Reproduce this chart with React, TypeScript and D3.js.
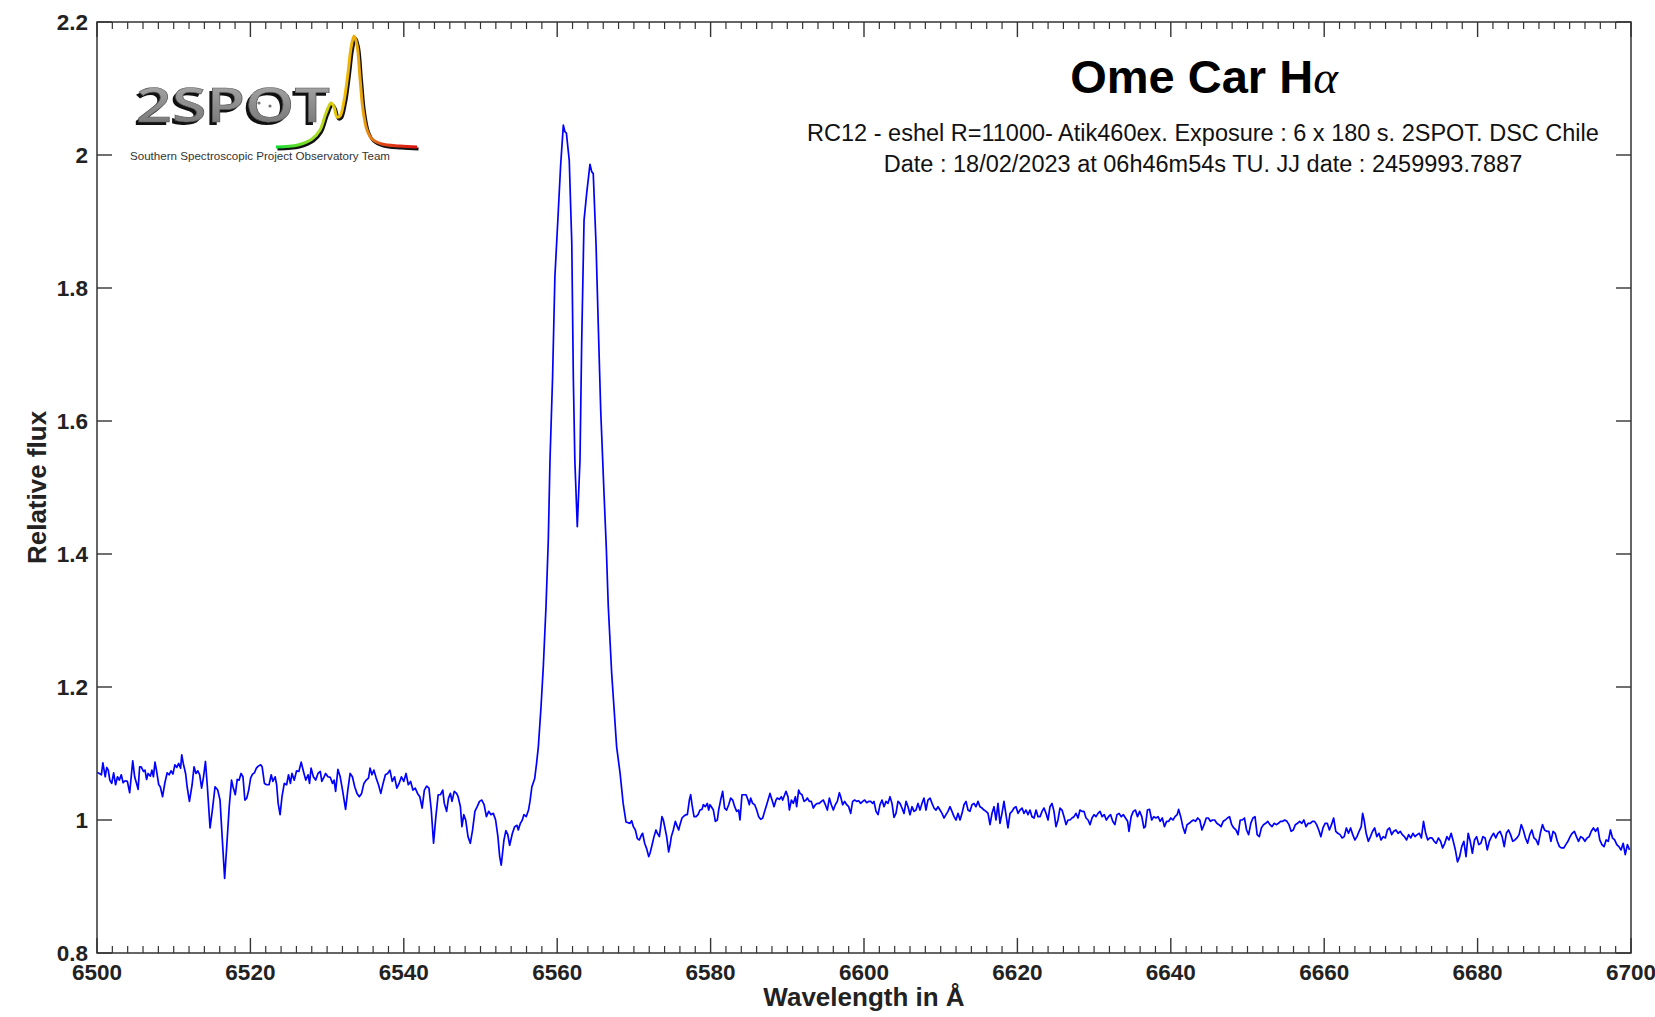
import React from "react";
import * as d3 from "d3";

// ---- Data: Omega Car H-alpha spectrum (wavelength in Å, relative flux) ----
const blueWing: [number, number][] = [
[6500.0,1.072],[6500.57,1.068],[6500.77,1.086],[6501.07,1.065],[6501.27,1.079],[6501.47,1.075],[6501.67,1.060],[6501.92,1.055],[6502.17,1.071],[6502.42,1.053],[6502.67,1.065],[6502.91,1.060],[6503.16,1.068],[6503.41,1.056],[6503.66,1.059],[6503.96,1.058],[6504.26,1.041],[6504.46,1.065],[6504.66,1.089],[6504.91,1.065],[6505.16,1.055],[6505.36,1.046],[6505.56,1.080],[6505.76,1.080],[6506.06,1.073],[6506.26,1.075],[6506.46,1.061],[6506.66,1.070],[6506.96,1.066],[6507.16,1.075],[6507.36,1.065],[6507.56,1.087],[6507.75,1.075],[6508.05,1.053],[6508.25,1.050],[6508.55,1.035],[6508.85,1.056],[6509.15,1.071],[6509.40,1.068],[6509.65,1.074],[6509.90,1.069],[6510.15,1.083],[6510.40,1.079],[6510.65,1.085],[6510.90,1.078],[6511.05,1.098],[6511.25,1.085],[6511.55,1.070],[6511.75,1.050],[6512.05,1.028],[6512.40,1.053],[6512.65,1.080],[6512.90,1.070],[6513.14,1.074],[6513.39,1.068],[6513.64,1.048],[6513.89,1.065],[6514.14,1.088],[6514.39,1.050],[6514.74,0.988],[6515.04,1.015],[6515.39,1.050],[6515.74,1.045],[6516.04,1.030],[6516.24,0.990],[6516.64,0.912],[6516.94,0.965],[6517.24,1.020],[6517.54,1.060],[6517.73,1.050],[6518.03,1.038],[6518.28,1.061],[6518.53,1.060],[6518.78,1.070],[6519.03,1.065],[6519.28,1.030],[6519.53,1.033],[6519.78,1.045],[6520.03,1.063],[6520.28,1.069],[6520.53,1.071],[6520.78,1.078],[6521.03,1.081],[6521.33,1.083],[6521.53,1.080],[6521.83,1.055],[6522.13,1.053],[6522.43,1.053],[6522.72,1.068],[6522.92,1.058],[6523.22,1.065],[6523.42,1.053],[6523.62,1.025],[6523.87,1.008],[6524.12,1.035],[6524.42,1.055],[6524.72,1.053],[6524.97,1.068],[6525.22,1.055],[6525.42,1.070],[6525.72,1.060],[6526.02,1.074],[6526.32,1.073],[6526.62,1.087],[6526.92,1.073],[6527.22,1.060],[6527.52,1.068],[6527.71,1.055],[6527.91,1.078],[6528.21,1.065],[6528.51,1.060],[6528.81,1.070],[6529.11,1.073],[6529.31,1.058],[6529.61,1.065],[6529.81,1.070],[6530.11,1.065],[6530.41,1.064],[6530.71,1.055],[6530.91,1.060],[6531.11,1.043],[6531.41,1.076],[6531.71,1.065],[6532.01,1.045],[6532.41,1.016],[6532.70,1.045],[6533.00,1.070],[6533.30,1.065],[6533.60,1.050],[6533.90,1.040],[6534.20,1.035],[6534.50,1.040],[6534.80,1.055],[6535.10,1.060],[6535.40,1.063],[6535.60,1.078],[6535.85,1.068],[6536.10,1.075],[6536.40,1.063],[6536.70,1.053],[6537.00,1.040],[6537.30,1.055],[6537.60,1.068],[6537.89,1.070],[6538.19,1.075],[6538.49,1.058],[6538.79,1.065],[6539.09,1.048],[6539.39,1.055],[6539.69,1.065],[6539.99,1.058],[6540.29,1.070],[6540.59,1.053],[6540.89,1.058],[6541.19,1.045],[6541.49,1.048],[6541.79,1.040],[6542.09,1.035],[6542.39,1.018],[6542.68,1.045],[6542.98,1.051],[6543.28,1.048],[6543.58,1.015],[6543.88,0.965],[6544.18,1.005],[6544.48,1.038],[6544.78,1.038],[6545.08,1.045],[6545.28,1.025],[6545.58,1.013],[6545.83,1.033],[6546.08,1.040],[6546.28,1.028],[6546.58,1.043],[6546.88,1.040],[6547.08,1.035],[6547.38,1.020],[6547.58,0.990],[6547.82,1.008],[6548.07,1.000],[6548.37,0.975],[6548.67,0.965],[6548.97,0.985],[6549.27,1.013],[6549.57,1.020],[6549.87,1.028],[6550.17,1.030],[6550.47,1.023],[6550.77,1.005],[6551.07,1.013],[6551.37,1.008],[6551.67,1.010],[6551.97,1.000],[6552.27,0.975],[6552.50,0.945],[6552.70,0.932],[6553.06,0.970],[6553.31,0.984],[6553.56,0.978],[6553.80,0.962],[6554.16,0.980],[6554.46,0.990],[6554.76,0.992],[6554.93,0.985],[6555.20,0.995],[6555.45,1.000],[6555.66,1.008],[6555.96,1.005],[6556.26,1.015],[6556.45,1.028],[6556.70,1.050],[6557.06,1.062]
];

const emissionCore: [number, number][] = [
[6557.31,1.085],[6557.54,1.110],[6557.89,1.170],[6558.19,1.231],[6558.54,1.321],[6558.84,1.421],[6559.06,1.541],[6559.40,1.667],[6559.70,1.817],[6560.15,1.917],[6560.45,1.985],[6560.80,2.045],[6561.00,2.035],[6561.20,2.033],[6561.57,1.992],[6561.90,1.868],[6562.10,1.667],[6562.30,1.541],[6562.62,1.441],[6562.97,1.541],[6563.19,1.717],[6563.50,1.902],[6563.84,1.942],[6564.27,1.986],[6564.50,1.975],[6564.70,1.972],[6565.06,1.867],[6565.36,1.742],[6565.67,1.617],[6566.10,1.492],[6566.40,1.410],[6566.66,1.321],[6567.10,1.221],[6567.40,1.170],[6567.75,1.110],[6568.20,1.070],[6568.60,1.025],[6568.97,0.997]
];

const redWingNear: [number, number][] = [
[6569.49,0.995],[6569.71,0.999],[6569.93,0.990],[6570.19,0.985],[6570.45,0.972],[6570.71,0.970],[6570.97,0.977],[6571.14,0.980],[6571.40,0.965],[6571.66,0.957],[6571.93,0.945],[6572.10,0.950],[6572.36,0.962],[6572.62,0.975],[6572.88,0.985],[6573.06,0.980],[6573.32,0.975],[6573.49,0.990],[6573.66,1.005],[6573.84,1.000],[6574.10,0.985],[6574.27,0.975],[6574.53,0.952],[6574.71,0.962],[6574.88,0.975],[6575.14,0.985],[6575.40,0.998],[6575.66,0.990],[6575.84,0.985],[6576.01,0.993],[6576.27,1.003],[6576.53,1.006],[6576.79,1.008],[6576.97,1.008],[6577.23,1.030],[6577.40,1.038],[6577.58,1.023],[6577.84,1.005],[6578.10,1.005],[6578.36,1.008],[6578.62,1.015],[6578.88,1.016],[6579.05,1.023],[6579.31,1.020],[6579.57,1.025],[6579.75,1.015],[6579.92,1.023],[6580.10,1.020],[6580.36,1.015],[6580.62,0.998],[6580.88,1.000],[6581.05,1.015],[6581.31,1.030],[6581.57,1.043],[6581.83,1.018],[6582.09,1.015],[6582.36,1.023],[6582.62,1.033],[6582.88,1.030],[6583.14,1.020],[6583.40,1.013],[6583.66,1.015],[6583.83,1.000],[6584.09,1.038],[6584.36,1.038],[6584.62,1.038],[6584.88,1.030],[6585.05,1.023],[6585.22,1.033],[6585.48,1.025],[6585.75,1.023],[6586.01,1.015],[6586.27,1.005],[6586.53,1.001],[6586.79,1.003],[6587.05,1.013],[6587.31,1.023],[6587.57,1.033],[6587.74,1.040],[6588.01,1.030],[6588.27,1.020],[6588.53,1.030],[6588.70,1.033],[6588.96,1.031],[6589.22,1.035],[6589.40,1.030],[6589.66,1.038],[6589.83,1.043],[6590.09,1.035],[6590.27,1.015],[6590.53,1.030],[6590.79,1.025],[6591.05,1.035],[6591.22,1.020],[6591.48,1.045],[6591.66,1.040],[6591.92,1.038],[6592.18,1.028],[6592.44,1.030],[6592.61,1.033],[6592.87,1.028],[6593.13,1.028],[6593.39,1.018],[6593.66,1.023],[6593.92,1.025],[6594.18,1.025],[6594.44,1.028],[6594.70,1.030],[6594.96,1.023],[6595.22,1.015],[6595.48,1.033],[6595.74,1.023],[6596.00,1.015],[6596.26,1.023],[6596.52,1.028],[6596.79,1.041],[6596.96,1.035],[6597.22,1.023],[6597.48,1.028],[6597.74,1.023],[6598.00,1.020],[6598.26,1.010],[6598.52,1.028],[6598.78,1.030],[6599.04,1.028],[6599.30,1.029],[6599.57,1.025],[6599.83,1.028],[6600.09,1.030],[6600.35,1.026],[6600.61,1.028],[6600.87,1.028],[6601.13,1.025],[6601.30,1.028],[6601.57,1.013],[6601.83,1.008],[6602.09,1.023],[6602.35,1.030],[6602.61,1.020],[6602.87,1.028],[6603.13,1.025],[6603.39,1.035],[6603.65,1.025],[6603.91,1.004],[6604.17,1.010],[6604.43,1.028],[6604.69,1.025],[6604.95,1.018],[6605.22,1.010],[6605.48,1.028],[6605.74,1.020],[6606.00,1.008],[6606.26,1.020],[6606.52,1.013],[6606.78,1.015],[6607.04,1.025],[6607.30,1.015],[6607.56,1.025],[6607.82,1.033],[6608.08,1.015],[6608.34,1.030],[6608.61,1.033],[6608.87,1.025],[6609.13,1.018],[6609.39,1.015],[6609.65,1.020],[6609.91,1.015],[6610.17,1.010],[6610.43,1.003],[6610.69,1.008],[6610.95,1.013],[6611.21,1.020],[6611.47,1.013],[6611.74,1.005],[6612.00,1.000],[6612.26,1.010],[6612.52,1.000],[6612.78,1.010],[6613.04,1.023],[6613.30,1.028],[6613.56,1.015],[6613.82,1.013],[6614.08,1.023],[6614.34,1.025],[6614.60,1.020],[6614.86,1.028],[6615.12,1.020],[6615.39,1.018],[6615.65,1.015],[6615.91,1.013],[6616.17,1.010],[6616.43,0.993],[6616.69,1.010],[6616.95,1.020],[6617.21,1.000],[6617.47,1.025],[6617.73,0.995],[6617.99,1.010],[6618.25,1.028],[6618.51,1.008],[6618.77,0.988],[6619.04,1.010],[6619.30,1.013],[6619.56,1.018],[6619.82,1.020],[6620.08,1.010],[6620.34,1.015],[6620.60,1.018],[6620.86,1.010],[6621.12,1.015],[6621.38,1.008],[6621.64,1.015],[6621.90,1.005],[6622.17,1.003],[6622.43,1.015],[6622.69,1.005],[6622.95,1.005],[6623.21,1.013],[6623.47,1.018],[6623.73,1.010],[6623.99,1.000],[6624.25,1.020],[6624.51,1.025],[6624.77,1.013],[6625.03,0.990],[6625.29,1.000],[6625.55,1.018],[6625.82,1.015],[6626.08,1.005],[6626.34,0.993],[6626.60,1.000],[6626.86,1.000],[6627.12,1.003],[6627.38,1.005],[6627.64,1.010],[6627.90,1.003],[6628.16,1.015],[6628.42,1.013],[6628.68,1.013],[6628.95,1.003],[6629.21,1.000],[6629.47,0.993],[6629.73,1.003],[6629.99,1.008],[6630.25,1.005],[6630.51,1.010]
];

const redWingFar: [number, number][] = [
[6630.77,1.013],[6631.05,1.005],[6631.32,1.008],[6631.60,1.000],[6631.88,1.005],[6632.15,1.008],[6632.43,0.998],[6632.71,0.993],[6632.98,1.008],[6633.26,1.010],[6633.54,1.005],[6633.82,1.008],[6634.09,1.003],[6634.37,0.998],[6634.55,0.983],[6634.83,1.005],[6635.11,1.013],[6635.39,1.015],[6635.66,1.005],[6635.94,1.013],[6636.22,1.005],[6636.49,0.988],[6636.68,0.990],[6636.95,1.015],[6637.23,1.016],[6637.51,1.000],[6637.78,1.005],[6638.06,1.003],[6638.34,1.005],[6638.62,0.998],[6638.89,1.003],[6639.17,0.990],[6639.45,0.998],[6639.72,0.998],[6640.00,1.003],[6640.28,1.000],[6640.55,1.005],[6640.83,1.008],[6641.02,1.016],[6641.29,1.005],[6641.57,0.990],[6641.85,0.980],[6642.12,0.993],[6642.40,0.995],[6642.68,0.998],[6642.95,1.000],[6643.23,0.998],[6643.51,1.003],[6643.78,1.000],[6644.06,0.985],[6644.34,0.993],[6644.62,1.003],[6644.89,1.003],[6645.17,0.998],[6645.45,1.000],[6645.72,1.000],[6646.00,0.995],[6646.28,0.993],[6646.55,0.990],[6646.83,0.998],[6647.11,1.000],[6647.38,1.003],[6647.66,1.005],[6647.94,0.993],[6648.21,0.988],[6648.49,0.985],[6648.77,0.978],[6649.05,1.000],[6649.32,1.000],[6649.60,1.003],[6649.88,0.985],[6650.15,0.978],[6650.43,0.995],[6650.71,1.003],[6650.98,1.005],[6651.26,0.978],[6651.54,0.975],[6651.81,0.988],[6652.09,0.993],[6652.37,0.995],[6652.65,0.998],[6652.92,0.993],[6653.20,0.990],[6653.48,0.995],[6653.75,0.993],[6654.03,0.995],[6654.31,0.998],[6654.58,0.998],[6654.86,1.000],[6655.14,0.998],[6655.41,0.993],[6655.69,0.983],[6655.97,0.985],[6656.24,0.993],[6656.52,0.995],[6656.80,0.998],[6657.08,0.995],[6657.35,1.000],[6657.63,0.990],[6657.91,0.995],[6658.18,0.995],[6658.46,0.998],[6658.74,0.998],[6659.01,0.993],[6659.29,0.985],[6659.57,0.975],[6659.84,0.988],[6660.12,0.995],[6660.40,0.995],[6660.68,0.985],[6660.95,0.993],[6661.23,1.003],[6661.51,0.983],[6661.78,0.980],[6662.06,0.978],[6662.34,0.973],[6662.61,0.975],[6662.89,0.988],[6663.17,0.980],[6663.44,0.988],[6663.72,0.978],[6664.00,0.970],[6664.27,0.975],[6664.55,0.983],[6664.83,0.990],[6665.01,1.010],[6665.20,1.000],[6665.47,0.980],[6665.75,0.968],[6666.03,0.975],[6666.31,0.983],[6666.58,0.988],[6666.86,0.975],[6667.14,0.980],[6667.41,0.970],[6667.69,0.975],[6667.97,0.973],[6668.24,0.985],[6668.52,0.988],[6668.80,0.978],[6669.07,0.983],[6669.35,0.985],[6669.63,0.980],[6669.91,0.983],[6670.18,0.978],[6670.46,0.975],[6670.74,0.970],[6671.01,0.978],[6671.29,0.973],[6671.57,0.980],[6671.84,0.975],[6672.12,0.978],[6672.40,0.980],[6672.67,0.973],[6672.95,0.998],[6673.23,0.980],[6673.50,0.970],[6673.78,0.973],[6674.06,0.973],[6674.34,0.968],[6674.61,0.965],[6674.89,0.973],[6675.17,0.968],[6675.44,0.958],[6675.72,0.965],[6676.00,0.975],[6676.27,0.970],[6676.55,0.980],[6676.83,0.968],[6677.10,0.955],[6677.38,0.937],[6677.66,0.945],[6677.93,0.960],[6678.21,0.968],[6678.49,0.945],[6678.77,0.980],[6679.04,0.968],[6679.32,0.950],[6679.60,0.970],[6679.87,0.975],[6680.15,0.963],[6680.43,0.965],[6680.70,0.975],[6680.98,0.973],[6681.26,0.955],[6681.53,0.968],[6681.81,0.975],[6682.09,0.980],[6682.37,0.973],[6682.64,0.980],[6682.92,0.983],[6683.20,0.975],[6683.47,0.960],[6683.75,0.980],[6684.03,0.985],[6684.30,0.978],[6684.58,0.968],[6684.86,0.970],[6685.13,0.973],[6685.41,0.978],[6685.69,0.993],[6685.96,0.985],[6686.24,0.973],[6686.52,0.965],[6686.80,0.978],[6687.07,0.985],[6687.35,0.973],[6687.63,0.970],[6687.90,0.963],[6688.18,0.980],[6688.46,0.993],[6688.73,0.985],[6689.01,0.983],[6689.29,0.983],[6689.56,0.968],[6689.84,0.983],[6690.12,0.980],[6690.39,0.968],[6690.67,0.960],[6690.95,0.958],[6691.23,0.958],[6691.50,0.963],[6691.78,0.968],[6692.06,0.975],[6692.33,0.980],[6692.61,0.983],[6692.89,0.975],[6693.16,0.968],[6693.44,0.975],[6693.72,0.973],[6693.99,0.968],[6694.27,0.973],[6694.55,0.975],[6694.82,0.983],[6695.10,0.988],[6695.38,0.983],[6695.66,0.988],[6695.93,0.970],[6696.21,0.963],[6696.49,0.960],[6696.76,0.970],[6697.04,0.968],[6697.32,0.985],[6697.59,0.973],[6697.87,0.970],[6698.15,0.963],[6698.42,0.960],[6698.70,0.955],[6698.98,0.965],[6699.25,0.948],[6699.53,0.963],[6699.81,0.955]
];

const xDomain: [number, number] = [6500, 6700];
const yDomain: [number, number] = [0.8, 2.2];
const xMajorStep = 20;
const xMinorStep = 2;
const yMajorStep = 0.2;

const titleText = "Ome Car H";
const subtitleLines = [
  "RC12 - eshel R=11000- Atik460ex. Exposure : 6 x 180 s. 2SPOT. DSC Chile",
  "Date : 18/02/2023 at 06h46m54s TU. JJ date : 2459993.7887",
];
const xAxisTitle = "Wavelength in Å";
const yAxisTitle = "Relative flux";
const logoWord = "2SPOT";
const logoTagline = "Southern Spectroscopic Project Observatory Team";

// logo emblem curve (in logo-local units)
const logoCurve: [number, number][] = [
  [0, 114], [22, 112], [36, 106], [44, 97], [50, 80], [55, 70], [58, 74], [61, 84], [64, 83], [68, 68],
  [72, 40], [75, 15], [78, 3], [81, 12], [84, 45], [87, 77], [91, 97], [96, 106], [106, 111], [124, 113], [141, 114],
];

const W = 1655;
const H = 1017;
const M = { left: 97, right: 24, top: 22, bottom: 64 };

export default function App() {
  const x = d3.scaleLinear().domain(xDomain).range([M.left, W - M.right]);
  const y = d3.scaleLinear().domain(yDomain).range([H - M.bottom, M.top]);
  const data = [...blueWing, ...emissionCore, ...redWingNear, ...redWingFar];
  const line = d3
    .line<[number, number]>()
    .x((d) => x(d[0]))
    .y((d) => y(d[1]));

  const xMajor = d3.range(xDomain[0], xDomain[1] + 0.001, xMajorStep);
  const xMinor = d3.range(xDomain[0], xDomain[1] + 0.001, xMinorStep).filter((v) => Math.abs(v % xMajorStep) > 1e-6);
  const yMajor = d3.range(yDomain[0], yDomain[1] + 0.001, yMajorStep).map((v) => +v.toFixed(1));
  const fmtY = (v: number) => String(+v.toFixed(1));

  const x0 = M.left, x1 = W - M.right, y0 = M.top, y1 = H - M.bottom;
  const axisColor = "#333";
  const font = "'Liberation Sans', Arial, Helvetica, sans-serif";

  // logo placement
  const lx = d3.scaleLinear().domain([0, 141]).range([276, 417]);
  const ly = d3.scaleLinear().domain([0, 114]).range([33, 147]);
  const logoLine = d3.line<[number, number]>().x((d) => lx(d[0])).y((d) => ly(d[1])).curve(d3.curveCatmullRom);

  return (
    <svg
      width={W}
      height={H}
      style={{ position: "absolute", left: 0, top: 0, display: "block" }}
      fontFamily={font}
    >
      <defs>
        <clipPath id="plotClip">
          <rect x={x0} y={y0} width={x1 - x0} height={y1 - y0} />
        </clipPath>
        <linearGradient id="logoGrad" x1="0" y1="0" x2="1" y2="0" gradientUnits="objectBoundingBox">
          <stop offset="0" stopColor="#11dd33" />
          <stop offset="0.3" stopColor="#aadd22" />
          <stop offset="0.45" stopColor="#f2c200" />
          <stop offset="0.62" stopColor="#e8a010" />
          <stop offset="0.75" stopColor="#e04818" />
          <stop offset="1" stopColor="#dd1010" />
        </linearGradient>
        <linearGradient id="letterGrad" x1="0" y1="0" x2="0" y2="1">
          <stop offset="0" stopColor="#b4b4b4" />
          <stop offset="0.5" stopColor="#8e8e8e" />
          <stop offset="1" stopColor="#6e6e6e" />
        </linearGradient>
      </defs>
      <rect x={0} y={0} width={W} height={H} fill="#fff" />

      {/* logo */}
      <g>
        <text x={133} y={125} fontFamily="'Open Sans', sans-serif" fontWeight={600} fontSize={47} fill="#111"
          textLength={194} lengthAdjust="spacingAndGlyphs">{logoWord}</text>
        <text x={136} y={122} fontFamily="'Open Sans', sans-serif" fontWeight={600} fontSize={47} fill="url(#letterGrad)"
          stroke="#5a5a5a" strokeWidth={0.6} textLength={194} lengthAdjust="spacingAndGlyphs">{logoWord}</text>
        <circle cx={259} cy={103} r={1.6} fill="#777" />
        <circle cx={270} cy={106} r={1.6} fill="#777" />
        <circle cx={268} cy={121} r={1.6} fill="#777" />
        <path d={logoLine(logoCurve) || ""} transform="translate(1.5,2)" fill="none" stroke="#111" strokeWidth={3} />
        <path d={logoLine(logoCurve) || ""} fill="none" stroke="url(#logoGrad)" strokeWidth={3} />
        <text x={130} y={159.5} fontSize={10.5} fill="#333" textLength={260} lengthAdjust="spacingAndGlyphs">{logoTagline}</text>
      </g>

      {/* spectrum */}
      <path d={line(data) || ""} fill="none" stroke="#0000ff" strokeWidth={1.7} strokeLinejoin="round" clipPath="url(#plotClip)" />

      {/* frame */}
      <rect x={x0} y={y0} width={x1 - x0} height={y1 - y0} fill="none" stroke={axisColor} strokeWidth={1.5} />

      {/* x ticks */}
      {xMajor.map((v) => (
        <g key={"xM" + v}>
          <line x1={x(v)} x2={x(v)} y1={y1} y2={y1 - 15} stroke={axisColor} strokeWidth={1.4} />
          <line x1={x(v)} x2={x(v)} y1={y0} y2={y0 + 15} stroke={axisColor} strokeWidth={1.4} />
          <text x={x(v)} y={y1 + 27} textAnchor="middle" fontSize={22.5} fontWeight={700} fill="#222">{v}</text>
        </g>
      ))}
      {xMinor.map((v) => (
        <g key={"xm" + v}>
          <line x1={x(v)} x2={x(v)} y1={y1} y2={y1 - 7} stroke={axisColor} strokeWidth={1.2} />
          <line x1={x(v)} x2={x(v)} y1={y0} y2={y0 + 7} stroke={axisColor} strokeWidth={1.2} />
        </g>
      ))}

      {/* y ticks */}
      {yMajor.map((v) => (
        <g key={"y" + v}>
          <line x1={x0} x2={x0 + 15} y1={y(v)} y2={y(v)} stroke={axisColor} strokeWidth={1.4} />
          <line x1={x1} x2={x1 - 15} y1={y(v)} y2={y(v)} stroke={axisColor} strokeWidth={1.4} />
          <text x={88} y={y(v) + 7.5} textAnchor="end" fontSize={22.5} fontWeight={700} fill="#222">{fmtY(v)}</text>
        </g>
      ))}

      {/* titles */}
      <text x={1204} y={93} textAnchor="middle" fontSize={47} fontWeight={700} fill="#000">
        {titleText}
        <tspan fontFamily="'Liberation Serif', serif" fontStyle="italic" fontWeight={400}>α</tspan>
      </text>
      {subtitleLines.map((s, i) => (
        <text key={i} x={1203} y={141 + i * 30.5} textAnchor="middle" fontSize={23.5} fill="#111">{s}</text>
      ))}

      <text x={(x0 + x1) / 2} y={1006} textAnchor="middle" fontSize={26} fontWeight={700} fill="#222">{xAxisTitle}</text>
      <text transform={`translate(46, ${(y0 + y1) / 2}) rotate(-90)`} textAnchor="middle" fontSize={26} fontWeight={700} fill="#222">{yAxisTitle}</text>
    </svg>
  );
}
